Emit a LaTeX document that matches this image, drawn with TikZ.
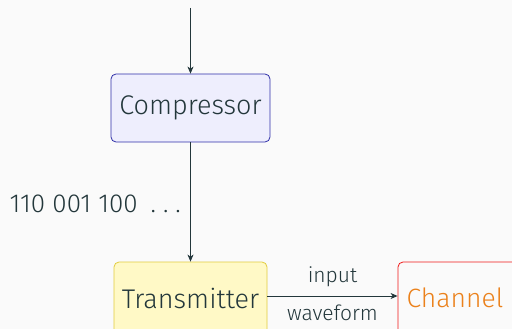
\documentclass[tikz,border=0pt]{standalone}
\usepackage{fontspec}
\setmainfont{Fira Sans}[UprightFont=* Light]
\usetikzlibrary{arrows.meta}
\definecolor{bgc}{HTML}{FAFAFA}
\definecolor{ink}{HTML}{23373B}
\definecolor{cmpfill}{HTML}{EEEEFD}
\definecolor{cmpdraw}{HTML}{3030A8}
\definecolor{txfill}{HTML}{FFF9C6}
\definecolor{txdraw}{HTML}{E2CC3E}
\definecolor{chdraw}{HTML}{F01818}
\definecolor{chtext}{HTML}{EB811B}
\tikzset{
  x=1pt, y=-1pt,
  blockbox/.style={rounded corners=5pt, line width=0.8pt, inner sep=0pt, anchor=center},
  flow/.style={draw=ink, line width=0.9pt, -{Stealth[length=7pt,width=6pt,inset=2pt]}},
  lbl/.style={text=ink, font=\fontsize{21}{23}\selectfont}
}
\begin{document}
\begin{tikzpicture}
  \fill[bgc] (0,0) rectangle (512,329);
  \useasboundingbox (0,0) rectangle (512,329);
  \node[blockbox, fill=cmpfill, draw=cmpdraw, minimum width=159pt, minimum height=68pt,
        text=ink, font=\fontsize{27}{29}\selectfont] (cmp) at (190.5,108) {Compressor};
  \node[blockbox, fill=txfill, draw=txdraw, minimum width=153pt, minimum height=72pt,
        text=ink, font=\fontsize{27}{29}\selectfont] (tx) at (190.5,298) {Transmitter};
  \node[blockbox, fill=bgc, draw=chdraw, minimum width=130pt, minimum height=72pt,
        text=chtext, font=\fontsize{26.5}{28}\selectfont] (ch) at (463,298) {\hspace*{-16pt}Channel};
  \coordinate (src) at (190.5,8);
  \draw[flow] (src) -- (cmp.north);
  \draw[flow] (cmp.south) -- (tx.north);
  \draw[flow] (tx.east |- 0,296) -- (ch.west |- 0,296)
    node[lbl, midway, above=5pt] {input}
    node[lbl, midway, below=5pt] {waveform};
  \node[text=ink, font=\fontsize{26}{28}\selectfont, anchor=east, inner sep=0pt] (bits) at (181,204)
    {110 001 100\hspace{13pt}.\hspace{7pt}.\hspace{7pt}.};
\end{tikzpicture}
\end{document}
